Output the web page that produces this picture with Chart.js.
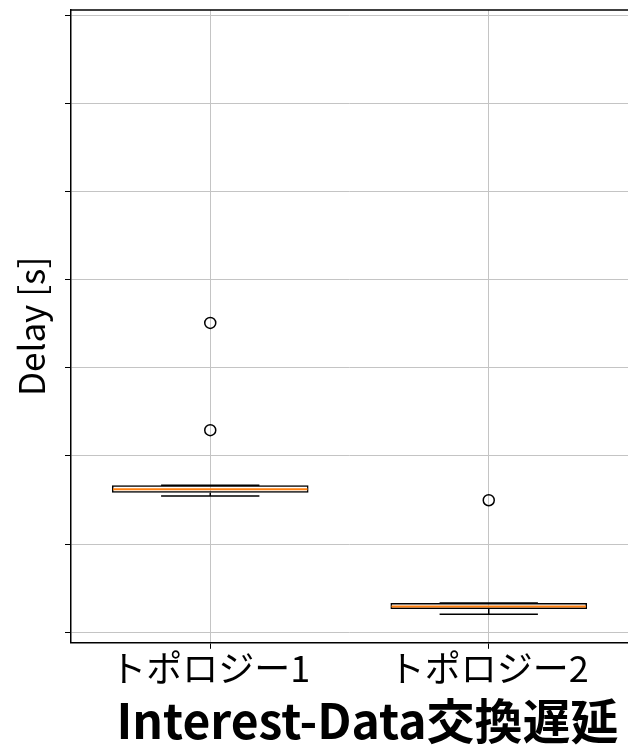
<!DOCTYPE html>
<html>
<head>
<meta charset="utf-8">
<script src="https://cdn.jsdelivr.net/npm/chart.js@4/dist/chart.umd.min.js"></script>
<style>
  body { margin: 0; background: #fff; overflow: hidden; }
  #wrap { width: 628px; height: 749px; }
</style>
</head>
<body>
<div id="wrap"><canvas id="boxChart"></canvas></div>
<script>
// DATA
let categories = ['トポロジー1', 'トポロジー2'];
let q1 = [1.582, 0.264];
let q3 = [1.667, 0.332];
let medians = [1.622, 0.292];
let whiskerLow = [1.545, 0.205];
let whiskerHigh = [1.667, 0.332];
let outliers = [[3.508, 2.292], [1.497]];
let yTicks = [0, 1, 2, 3, 4, 5, 6, 7];

let fontFamily = '"Noto Sans CJK JP", "Noto Sans", sans-serif';
Chart.defaults.font.family = fontFamily;
Chart.defaults.color = '#000';

let outlierPoints = [];
outliers.forEach((list, i) => {
  list.forEach(v => outlierPoints.push({ x: categories[i], y: v }));
});

// whiskers, caps and median lines on top of the boxes
let boxExtras = {
  id: 'boxExtras',
  afterDatasetsDraw(chart) {
    let ctx = chart.ctx;
    let y = chart.scales.y;
    let meta = chart.getDatasetMeta(0);
    meta.data.forEach((bar, i) => {
      let cx = bar.x;
      let half = bar.width / 2;
      let capHalf = half / 2;
      ctx.save();
      ctx.strokeStyle = '#000';
      ctx.lineWidth = 1.5;
      ctx.beginPath();
      ctx.moveTo(cx, y.getPixelForValue(q1[i]));
      ctx.lineTo(cx, y.getPixelForValue(whiskerLow[i]));
      ctx.moveTo(cx, y.getPixelForValue(q3[i]));
      ctx.lineTo(cx, y.getPixelForValue(whiskerHigh[i]));
      ctx.moveTo(cx - capHalf, y.getPixelForValue(whiskerLow[i]));
      ctx.lineTo(cx + capHalf, y.getPixelForValue(whiskerLow[i]));
      ctx.moveTo(cx - capHalf, y.getPixelForValue(whiskerHigh[i]));
      ctx.lineTo(cx + capHalf, y.getPixelForValue(whiskerHigh[i]));
      ctx.stroke();
      ctx.strokeStyle = '#ff7f0e';
      ctx.lineWidth = 2;
      ctx.beginPath();
      ctx.moveTo(cx - half + 1, y.getPixelForValue(medians[i]));
      ctx.lineTo(cx + half - 1, y.getPixelForValue(medians[i]));
      ctx.stroke();
      ctx.restore();
    });
  },
  afterDraw(chart) {
    let ctx = chart.ctx;
    let area = chart.chartArea;
    ctx.save();
    // top spine
    ctx.strokeStyle = '#000';
    ctx.lineWidth = 1.5;
    ctx.beginPath();
    ctx.moveTo(area.left, area.top);
    ctx.lineTo(chart.width, area.top);
    ctx.stroke();
    // title under the axis
    ctx.fillStyle = '#000';
    ctx.font = 'bold 48px ' + fontFamily;
    ctx.textAlign = 'center';
    ctx.textBaseline = 'middle';
    ctx.fillText('Interest-Data交換遅延', (area.left + area.right) / 2 + 18, 721);
    ctx.restore();
  }
};

new Chart(document.getElementById('boxChart'), {
  type: 'bar',
  data: {
    labels: categories,
    datasets: [{
      label: 'box',
      data: q1.map((v, i) => [v, q3[i]]),
      backgroundColor: 'rgba(255,255,255,0)',
      borderColor: '#000',
      borderWidth: 1.5,
      borderSkipped: false,
      barPercentage: 0.706,
      categoryPercentage: 1
    }, {
      type: 'line',
      label: 'outliers',
      data: outlierPoints,
      showLine: false,
      pointStyle: 'circle',
      pointRadius: 5.5,
      pointBorderWidth: 1.5,
      pointBorderColor: '#000',
      pointBackgroundColor: 'rgba(255,255,255,0)'
    }]
  },
  options: {
    responsive: true,
    maintainAspectRatio: false,
    animation: false,
    layout: { autoPadding: false, padding: { top: 10, right: 0, left: 0, bottom: 61 } },
    plugins: {
      legend: { display: false },
      tooltip: { enabled: false }
    },
    scales: {
      x: {
        offset: true,
        grid: { offset: false, color: '#c4c4c4', tickColor: '#000', tickLength: 6, lineWidth: 1 },
        border: { color: '#000', width: 1.5 },
        ticks: { font: { size: 36 }, padding: -2, color: '#000' }
      },
      y: {
        min: -0.12,
        max: 7.057,
        afterBuildTicks: axis => { axis.ticks = yTicks.map(v => ({ value: v })); },
        grid: { color: '#c4c4c4', tickColor: '#000', tickLength: 6, lineWidth: 1 },
        border: { color: '#000', width: 1.5 },
        ticks: { display: false },
        title: {
          display: true,
          text: 'Delay [s]',
          font: { size: 35 },
          color: '#000',
          padding: { top: 11, bottom: 12 }
        }
      }
    }
  },
  plugins: [boxExtras]
});
</script>
</body>
</html>
